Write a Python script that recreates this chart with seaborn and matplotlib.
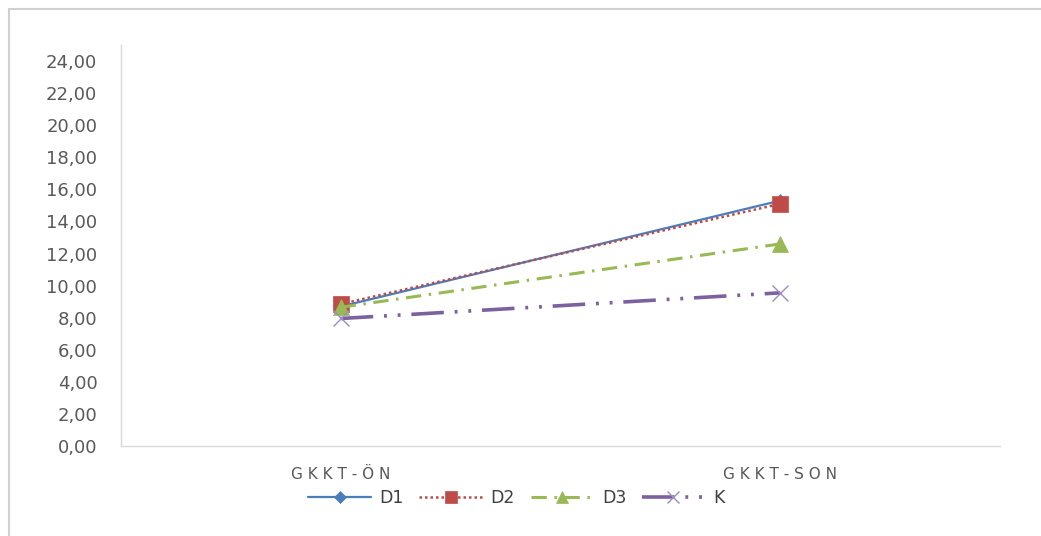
import matplotlib
matplotlib.use("Agg")
import matplotlib.pyplot as plt
from matplotlib.lines import Line2D
import seaborn as sns
import pandas as pd

# Test scores before / after
categories = ["GKKT-ÖN", "GKKT-SON"]
d1 = [8.70, 15.30]
d2 = [8.85, 15.10]
d3 = [8.65, 12.60]
k = [7.95, 9.55]
y_ticks = [0, 2, 4, 6, 8, 10, 12, 14, 16, 18, 20, 22, 24]

sns.set_theme(style="white")
plt.rcParams["font.family"] = ["DejaVu Sans"]

fig = plt.figure(figsize=(10.41, 5.36), dpi=100)
ax = fig.add_axes([0.1162, 0.1679, 0.8444, 0.7481])

series = [
    ("D1", d1, dict(color="#4A7EBB", marker="D", markersize=7, linewidth=1.6, dashes=(None, None))),
    ("D2", d2, dict(color="#BE4B48", marker="s", markersize=11, linewidth=1.8, dashes=(1, 1.2))),
    ("D3", d3, dict(color="#98B954", marker="^", markersize=11, linewidth=2.2, dashes=(5, 2.5, 0.8, 2.5))),
    ("K", k, dict(color="#7D60A0", marker="x", markersize=11, linewidth=2.6,
                  dashes=(9, 3, 0.8, 3, 0.8, 3), markeredgecolor="#9D8CC4", markeredgewidth=1.0)),
]

x_pos = list(range(len(categories)))
for name, vals, kw in series:
    df = pd.DataFrame({"x": x_pos, "y": vals})
    dashes = kw.pop("dashes")
    line_kw = dict(kw)
    sns.lineplot(data=df, x="x", y="y", ax=ax, label=name, legend=False,
                 markeredgecolor=line_kw.pop("markeredgecolor", kw["color"]),
                 markeredgewidth=line_kw.pop("markeredgewidth", 0.5),
                 **line_kw)
    ln = ax.lines[-1]
    if dashes[0] is not None:
        ln.set_dashes(dashes)
    kw["dashes"] = dashes

ax.set_xlim(-0.5, 1.5)
ax.set_ylim(0, 25)
ax.set_yticks(y_ticks)
ax.set_yticklabels([f"{v:.2f}".replace(".", ",") for v in y_ticks])
ax.set_xticks(x_pos)
ax.set_xticklabels([" ".join(c) for c in categories])
ax.tick_params(axis="y", labelsize=13, labelcolor="#595959", length=0, pad=17)
ax.tick_params(axis="x", labelsize=11, labelcolor="#595959", length=0, pad=15)
ax.set_xlabel("")
ax.set_ylabel("")
for side in ("top", "right"):
    ax.spines[side].set_visible(False)
for side in ("left", "bottom"):
    ax.spines[side].set_color("#D9D9D9")
    ax.spines[side].set_linewidth(1.0)
ax.grid(False)

# Legend handles mirroring each series' style
handles = []
for name, vals, kw in series:
    h = Line2D([0], [0], color=kw["color"], marker=kw["marker"],
               markersize=kw["markersize"] * 0.85, linewidth=kw["linewidth"],
               markeredgecolor=kw.get("markeredgecolor", kw["color"]),
               markeredgewidth=kw.get("markeredgewidth", 0.5))
    if kw["dashes"][0] is not None:
        h.set_dashes(kw["dashes"])
    handles.append(h)
fig.legend(handles, [s[0] for s in series], loc="center", bbox_to_anchor=(0.496, 0.071),
           ncol=4, frameon=False, fontsize=12.5, handlelength=3.6, columnspacing=0.9,
           handletextpad=0.5, labelcolor="#404040", markerfirst=True)

# Chart border (top and left edges)
fig.add_artist(Line2D([9 / 1041, 9 / 1041], [0, 1 - 9 / 536], color="#D0D0D0", linewidth=1.5,
                      transform=fig.transFigure))
fig.add_artist(Line2D([9 / 1041, 1], [1 - 9 / 536, 1 - 9 / 536], color="#D0D0D0", linewidth=1.5,
                      transform=fig.transFigure))

fig.savefig("out.png", dpi=100)
